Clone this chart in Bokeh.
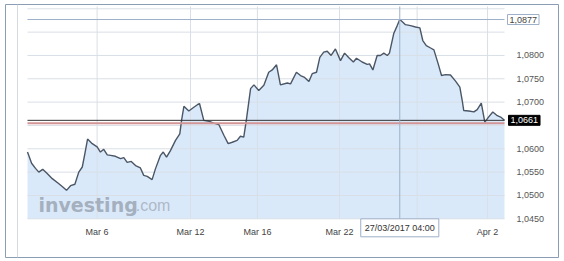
from bokeh.plotting import figure
from bokeh.models import (FixedTicker, CustomJSTickFormatter, Span, Label,
                          Range1d, LinearAxis)
from bokeh.embed import file_html
from bokeh.resources import INLINE

# EUR/USD, Mar 1 - Apr 3 2017; x = trading-day position (weekends removed)
days = [0.00, 0.21, 0.41, 0.58, 0.78, 1.01, 1.27, 1.61, 1.81, 2.00, 2.21, 2.43,
        2.63, 2.81, 2.94, 3.08, 3.32, 3.57, 3.74, 3.91, 4.09, 4.26, 4.51, 4.77,
        4.94, 5.11, 5.32, 5.54, 5.79, 5.96, 6.14, 6.39, 6.56, 6.82, 6.96, 7.13,
        7.33, 7.59, 7.81, 7.90, 8.02, 8.27, 8.53, 8.73, 8.82, 9.04, 9.30, 9.55,
        9.81, 10.07, 10.29, 10.50, 10.75, 10.92, 11.09, 11.22, 11.44, 11.61,
        11.86, 12.12, 12.37, 12.55, 12.77, 12.97, 13.32, 13.49, 13.79, 14.00,
        14.21, 14.43, 14.60, 14.82, 14.99, 15.19, 15.37, 15.57, 15.79, 16.05,
        16.26, 16.48, 16.71, 16.87, 17.16, 17.42, 17.54, 17.71, 17.93, 18.10,
        18.27, 18.45, 18.56, 18.78, 18.96, 19.09, 19.25, 19.38, 19.64, 19.90,
        20.12, 20.27, 20.45, 20.67, 20.84, 21.06, 21.23, 21.44, 21.69, 21.95,
        22.17, 22.29, 22.37, 22.63, 22.89, 23.06, 23.27, 23.45, 23.66, 23.86,
        24.09, 24.26, 24.46]
eurusd = [1.0593, 1.0569, 1.0558, 1.0550, 1.0556, 1.0547, 1.0536, 1.0525, 1.0518,
          1.0511, 1.0521, 1.0524, 1.0550, 1.0561, 1.0589, 1.0621, 1.0611, 1.0604,
          1.0593, 1.0599, 1.0587, 1.0586, 1.0584, 1.0579, 1.0581, 1.0571, 1.0573,
          1.0564, 1.0559, 1.0543, 1.0541, 1.0534, 1.0557, 1.0586, 1.0593, 1.0582,
          1.0596, 1.0618, 1.0632, 1.0661, 1.0691, 1.0681, 1.0689, 1.0695, 1.0697,
          1.0661, 1.0659, 1.0655, 1.0652, 1.0629, 1.0611, 1.0614, 1.0618, 1.0627,
          1.0625, 1.0661, 1.0729, 1.0737, 1.0725, 1.0736, 1.0764, 1.0769, 1.0780,
          1.0737, 1.0741, 1.0739, 1.0764, 1.0757, 1.0753, 1.0744, 1.0761, 1.0764,
          1.0796, 1.0807, 1.0809, 1.0800, 1.0814, 1.0789, 1.0805, 1.0795, 1.0786,
          1.0794, 1.0786, 1.0781, 1.0782, 1.0769, 1.0800, 1.0800, 1.0805, 1.0800,
          1.0805, 1.0847, 1.0864, 1.0877, 1.0871, 1.0866, 1.0864, 1.0861, 1.0859,
          1.0832, 1.0821, 1.0816, 1.0812, 1.0782, 1.0757, 1.0759, 1.0758, 1.0745,
          1.0732, 1.0704, 1.0682, 1.0681, 1.0679, 1.0684, 1.0698, 1.0657, 1.0669,
          1.0679, 1.0671, 1.0668, 1.0661]

x_tick_pos = [3.57, 8.36, 11.79, 16.0, 19.98, 23.59]
x_tick_labels = ["Mar 6", "Mar 12", "Mar 16", "Mar 22", "", "Apr 2"]
y_grid_ticks = [1.045, 1.050, 1.055, 1.060, 1.065, 1.070, 1.075, 1.080, 1.085, 1.090]
y_label_ticks = [1.045, 1.050, 1.055, 1.060, 1.070, 1.075, 1.080]
y_bottom = 1.0450
y_top = 1.0905
last_price = 1.0661
high_price = 1.0877
prev_close = 1.0655
high_day = 19.09
high_time_label = "27/03/2017 04:00"

FONT = "Liberation Sans"
x0, x1 = days[0], days[-1]

# the frame is the whole bordered widget; the price area sits inside it
p = figure(width=564, height=261, output_backend="svg", toolbar_location=None,
           x_range=Range1d(x0 - 1.128, x1 + 2.769),
           y_range=Range1d(y_bottom - 0.00829, y_bottom + 0.04592),
           x_axis_location=None, y_axis_location=None,
           min_border_left=5, min_border_right=6, min_border_top=4,
           min_border_bottom=4)
p.outline_line_color = "#8a9db3"
p.outline_line_width = 1
p.background_fill_color = "white"
p.border_fill_color = "white"
p.xgrid.visible = False
p.ygrid.visible = False

# left inner separator
p.add_layout(Span(location=x0 - 0.513, dimension="height",
                  line_color="#d5dbe2", line_width=1))

# area
p.varea(x=days, y1=y_bottom, y2=eurusd, fill_color="#d5e7fa", fill_alpha=0.9)

# grid (limited to the price area), drawn over the light fill
GRID = "#d9dfe6"
p.segment(x0=x_tick_pos, x1=x_tick_pos, y0=y_bottom, y1=y_top,
          line_color=GRID, line_width=1)
p.segment(x0=x0, x1=x1, y0=y_grid_ticks, y1=y_grid_ticks,
          line_color=GRID, line_width=1)

# watermark
p.add_layout(Label(x=x0 + 0.56, y=1.0479, text="investing", text_font="DejaVu Sans",
                   text_font_style="bold", text_font_size="19px", text_color="#9ea8b6",
                   text_alpha=0.9, text_baseline="alphabetic"))
p.add_layout(Label(x=x0 + 5.55, y=1.0479, text=".com", text_font=FONT,
                   text_font_size="16px", text_color="#a9b2bf", text_alpha=0.9,
                   text_baseline="alphabetic"))

p.line(days, eurusd, line_color="#4a5666", line_width=1.4)

# reference lines
p.segment(x0=x0, x1=x1, y0=high_price, y1=high_price, line_color="#9db0c8", line_width=1)
p.segment(x0=x0, x1=x1, y0=prev_close, y1=prev_close, line_color="#d39595", line_width=2)
p.segment(x0=x0, x1=x1, y0=last_price, y1=last_price, line_color="#333333", line_width=1)
p.segment(x0=high_day, x1=high_day, y0=y_bottom, y1=y_top, line_color="#9db0c8", line_width=1)

# axes placed at the edges of the price area
xa = LinearAxis(fixed_location=y_bottom)
xa.ticker = FixedTicker(ticks=x_tick_pos)
xa.formatter = CustomJSTickFormatter(
    args=dict(pos=x_tick_pos, labels=x_tick_labels),
    code="const i = pos.findIndex(t => Math.abs(t - tick) < 1e-6); return i >= 0 ? labels[i] : '';")
ya = LinearAxis(fixed_location=x1)
ya.ticker = FixedTicker(ticks=y_label_ticks)
ya.formatter = CustomJSTickFormatter(code="return tick.toFixed(4).replace('.', ',');")
for ax in (xa, ya):
    ax.axis_line_color = None
    ax.major_tick_line_color = None
    ax.minor_tick_line_color = None
    ax.major_label_text_font = FONT
    ax.major_label_text_font_size = "9px"
xa.major_label_text_color = "#444444"
ya.major_label_text_color = "#555555"
xa.major_label_standoff = 2
ya.major_label_standoff = 6
p.add_layout(xa, "below")
p.add_layout(ya, "right")

# price boxes on the right
fmt = lambda v: f"{v:.4f}".replace(".", ",")
p.add_layout(Label(x=x1, y=high_price, x_offset=3, text=fmt(high_price),
                   text_font=FONT, text_font_size="9px", text_color="#444444",
                   text_align="left", text_baseline="middle",
                   background_fill_color="white", border_line_color="#9db0c8",
                   padding=2))
p.add_layout(Label(x=x1, y=last_price, x_offset=4, text=fmt(last_price),
                   text_font=FONT, text_font_size="9px", text_color="white",
                   text_align="left", text_baseline="middle",
                   background_fill_color="black", border_line_color="black",
                   padding=2))
# crosshair time box
p.add_layout(Label(x=high_day, y=y_bottom, y_offset=-9, text=high_time_label,
                   text_font=FONT, text_font_size="9px", text_color="#333333",
                   text_align="center", text_baseline="middle",
                   background_fill_color="white", border_line_color="#9db0c8",
                   padding=4))

open("out.html", "w").write(file_html(p, INLINE))
